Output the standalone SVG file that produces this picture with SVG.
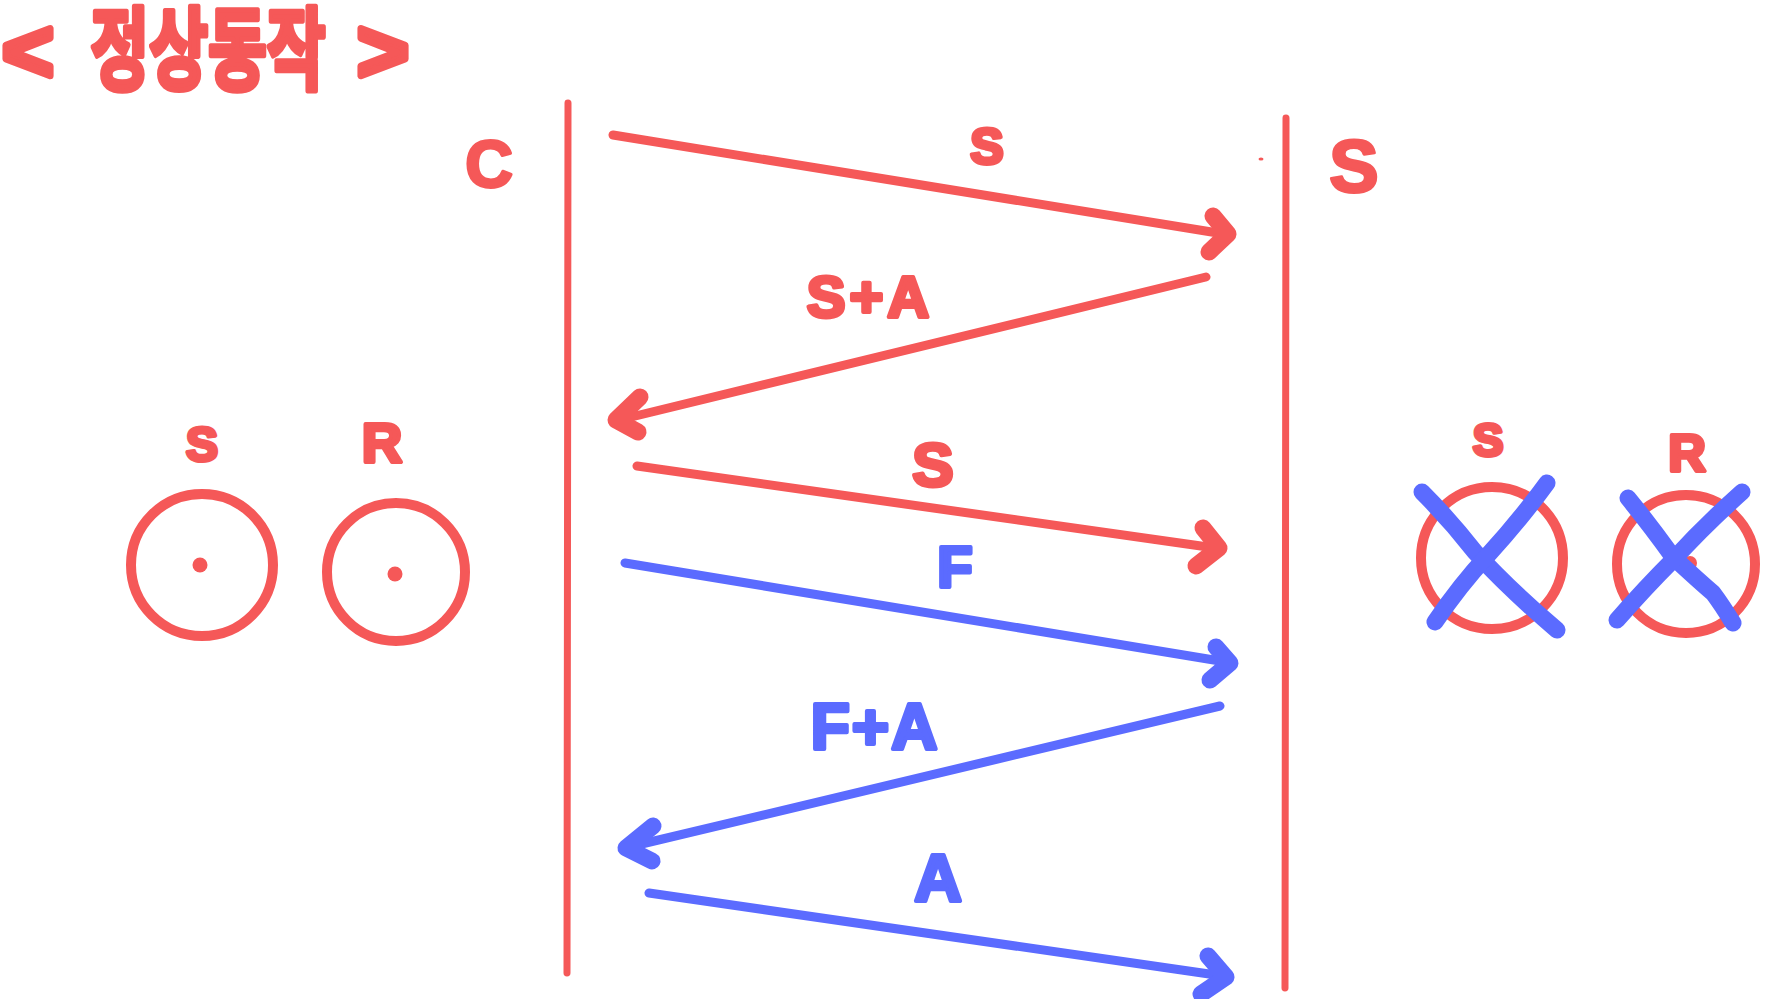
<svg xmlns="http://www.w3.org/2000/svg" width="1789" height="999" viewBox="0 0 1789 999">
<style>
.red{stroke:#f55858;fill:none;stroke-linecap:round;stroke-linejoin:round}
.blue{stroke:#5b6bff;fill:none;stroke-linecap:round;stroke-linejoin:round}
.life{stroke-width:7}
.shaft{stroke-width:9}
.head{stroke-width:17}
.ring{stroke-width:10}
.xx{stroke-width:17}
.t{font-family:"Liberation Sans","Noto Sans CJK KR",sans-serif;font-weight:bold;stroke-linejoin:round;text-anchor:middle}
.tr{fill:#f55858;stroke:#f55858}
.tb{fill:#5b6bff;stroke:#5b6bff}
</style>
<rect width="1789" height="999" fill="#ffffff"/>

<g id="title">
<text class="t tr" x="28" y="81" font-size="88" stroke-width="7">&lt;</text>
<text class="t tr" x="0" y="0" font-size="64" stroke-width="4" transform="translate(208,82) scale(1,1.4)" font-family="'Noto Sans CJK KR',sans-serif">정상동작</text>
<text class="t tr" x="383" y="81" font-size="88" stroke-width="7">&gt;</text>
</g>

<g id="client">
<text class="t tr" x="489" y="187" font-size="66" stroke-width="3">C</text>
</g>
<g id="server">
<text class="t tr" x="1354" y="192" font-size="74" stroke-width="3">S</text>
<ellipse cx="1261" cy="159" rx="2.5" ry="1.5" fill="#f55858"/>
</g>

<g id="lifelines">
<line class="red life" x1="568" y1="103" x2="567" y2="973"/>
<line class="red life" x1="1286" y1="118" x2="1285" y2="988"/>
</g>

<g id="connectors">
<line class="red shaft" x1="613" y1="135" x2="1224" y2="234"/>
<polyline class="red head" points="1213,216 1228,234 1209,252"/>

<line class="red shaft" x1="1206" y1="277" x2="619" y2="420"/>
<polyline class="red head" points="640,397 616,420 638,432"/>

<line class="red shaft" x1="637" y1="466" x2="1215" y2="548"/>
<polyline class="red head" points="1203,528 1219,548 1196,566"/>

<line class="blue shaft" x1="625" y1="563" x2="1226" y2="662"/>
<polyline class="blue head" points="1216,647 1230,663 1210,680"/>

<line class="blue shaft" x1="1220" y1="706" x2="629" y2="847"/>
<polyline class="blue head" points="653,826 626,848 652,861"/>

<line class="blue shaft" x1="649" y1="893" x2="1223" y2="976"/>
<polyline class="blue head" points="1208,956 1226,977 1201,994"/>
</g>

<g id="labels">
<text class="t tr" x="987" y="164" font-size="50" stroke-width="4">S</text>
<text class="t tr" x="870" y="317" font-size="58" stroke-width="4" letter-spacing="4">S+A</text>
<text class="t tr" x="933" y="486" font-size="62" stroke-width="4">S</text>
<text class="t tb" x="955" y="587" font-size="58" stroke-width="4">F</text>
<text class="t tb" x="875" y="749" font-size="64" stroke-width="4" letter-spacing="2">F+A</text>
<text class="t tb" x="938" y="901" font-size="66" stroke-width="4">A</text>
</g>

<g id="left-s">
<text class="t tr" x="202" y="461" font-size="48" stroke-width="4">S</text>
<circle class="red ring" cx="202" cy="565" r="71"/>
<circle cx="200" cy="565" r="7.5" fill="#f55858"/>
</g>
<g id="left-r">
<text class="t tr" x="382" y="462" font-size="56" stroke-width="4">R</text>
<circle class="red ring" cx="396" cy="572" r="69"/>
<circle cx="395" cy="574" r="7.5" fill="#f55858"/>
</g>

<g id="right-s">
<text class="t tr" x="1488" y="456" font-size="46" stroke-width="4">S</text>
<circle class="red ring" cx="1492" cy="558" r="71"/>
<path class="blue xx" d="M1422,492 Q1450,520 1475,552 Q1510,590 1557,630"/>
<path class="blue xx" d="M1547,483 Q1520,520 1488,555 Q1460,585 1435,622"/>
</g>
<g id="right-r">
<text class="t tr" x="1687" y="471" font-size="52" stroke-width="4">R</text>
<circle class="red ring" cx="1686" cy="564" r="69"/>
<circle cx="1690" cy="563" r="7" fill="#f55858"/>
<path class="blue xx" d="M1628,498 Q1650,525 1673,557 Q1700,582 1713,593 Q1722,605 1733,623"/>
<path class="blue xx" d="M1742,492 Q1705,525 1673,560 Q1645,588 1617,620"/>
</g>
</svg>
